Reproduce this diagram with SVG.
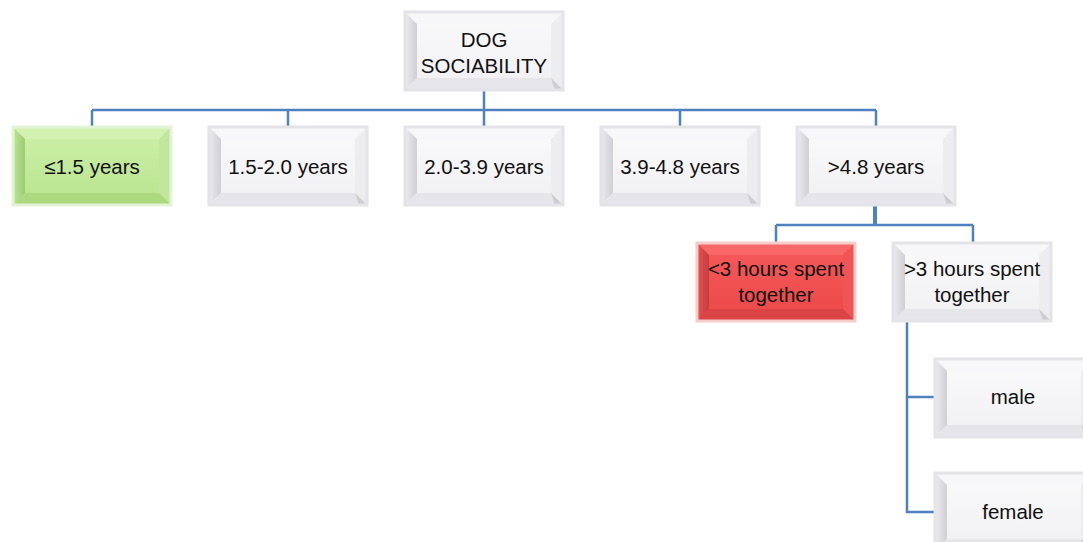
<svg xmlns="http://www.w3.org/2000/svg" width="1083" height="542" viewBox="0 0 1083 542">
<style>
.lbl{font-family:"Liberation Sans",Arial,sans-serif;font-size:20.5px;fill:#111;text-anchor:middle}
.con{stroke:#4f81bd;stroke-width:2.5;fill:none}
.edge{fill:none;stroke:#e4e4e8;stroke-width:3}
</style>
<defs>
<linearGradient id="wf" x1="0" y1="0" x2="0" y2="1"><stop offset="0" stop-color="#fafafb"/><stop offset="1" stop-color="#f0f0f3"/></linearGradient>
<linearGradient id="wl" x1="0" y1="0" x2="1" y2="0"><stop offset="0" stop-color="#ececef"/><stop offset="1" stop-color="#cfcfd4"/></linearGradient>
<linearGradient id="gf" x1="0" y1="0" x2="0" y2="1"><stop offset="0" stop-color="#cdf0a8"/><stop offset="1" stop-color="#b8e48e"/></linearGradient>
<linearGradient id="gl" x1="0" y1="0" x2="1" y2="0"><stop offset="0" stop-color="#bde597"/><stop offset="1" stop-color="#9ccc70"/></linearGradient>
<linearGradient id="rf" x1="0" y1="0" x2="0" y2="1"><stop offset="0" stop-color="#f55a5a"/><stop offset="1" stop-color="#ec4848"/></linearGradient>
<linearGradient id="rl" x1="0" y1="0" x2="1" y2="0"><stop offset="0" stop-color="#e45050"/><stop offset="1" stop-color="#c43e3e"/></linearGradient>
<g id="bw">
<rect x="0" y="0" width="158" height="78" fill="url(#wf)"/>
<polygon points="0,0 158,0 146,12 12,12" fill="#f7f7f9"/>
<polygon points="0,0 12,12 12,66 0,78" fill="url(#wl)"/>
<polygon points="158,0 158,78 146,66 146,12" fill="#ededf0"/>
<polygon points="0,78 12,66 146,66 158,78" fill="#e6e6ea"/>
<polygon points="146,66 158,78 150,78" fill="#cdcdd2"/>
<rect x="0" y="0" width="158" height="78" class="edge"/>
</g>
<g id="bg">
<rect x="0" y="0" width="158" height="78" fill="url(#gf)"/>
<polygon points="0,0 158,0 146,12 12,12" fill="#d3f2b2"/>
<polygon points="0,0 12,12 12,66 0,78" fill="url(#gl)"/>
<polygon points="158,0 158,78 146,66 146,12" fill="#c2e79c"/>
<polygon points="0,78 12,66 146,66 158,78" fill="#acd880"/>
<rect x="0" y="0" width="158" height="78" fill="none" stroke="#e4f3d6" stroke-width="3"/>
</g>
<g id="br">
<rect x="0" y="0" width="158" height="78" fill="url(#rf)"/>
<polygon points="0,0 158,0 146,12 12,12" fill="#f86868"/>
<polygon points="0,0 12,12 12,66 0,78" fill="url(#rl)"/>
<polygon points="158,0 158,78 146,66 146,12" fill="#f05454"/>
<polygon points="0,78 12,66 146,66 158,78" fill="#da4444"/>
<rect x="0" y="0" width="158" height="78" fill="none" stroke="#f6cccc" stroke-width="3"/>
</g>
</defs>
<g id="connectors">
<path class="con" d="M484,90 V110 M92,110 H876 M92,110 V127 M288,110 V127 M484,110 V127 M680,110 V127 M876,110 V127"/>
<path class="con" d="M776,225 H973 M776,225 V243 M973,225 V243"/>
<path class="con" d="M875,206 V226" style="stroke-width:4"/>
<path class="con" d="M907,322 V512 H935 M907,397 H935"/>
</g>
<g id="n-root"><use href="#bw" x="405" y="12"/><text class="lbl" x="484" y="47">DOG</text><text class="lbl" x="484" y="73">SOCIABILITY</text></g>
<g id="n-a1"><use href="#bg" x="13" y="127"/><text class="lbl" x="92" y="174">≤1.5 years</text></g>
<g id="n-a2"><use href="#bw" x="209" y="127"/><text class="lbl" x="288" y="174">1.5-2.0 years</text></g>
<g id="n-a3"><use href="#bw" x="405" y="127"/><text class="lbl" x="484" y="174">2.0-3.9 years</text></g>
<g id="n-a4"><use href="#bw" x="601" y="127"/><text class="lbl" x="680" y="174">3.9-4.8 years</text></g>
<g id="n-a5"><use href="#bw" x="797" y="127"/><text class="lbl" x="876" y="174">&gt;4.8 years</text></g>
<g id="n-h1"><use href="#br" x="697" y="243"/><text class="lbl" x="776" y="276">&lt;3 hours spent</text><text class="lbl" x="776" y="302">together</text></g>
<g id="n-h2"><use href="#bw" x="893" y="243"/><text class="lbl" x="972" y="276">&gt;3 hours spent</text><text class="lbl" x="972" y="302">together</text></g>
<g id="n-male"><use href="#bw" x="935" y="359"/><text class="lbl" x="1013" y="404">male</text></g>
<g id="n-female"><use href="#bw" x="935" y="473"/><text class="lbl" x="1013" y="519">female</text></g>
</svg>
